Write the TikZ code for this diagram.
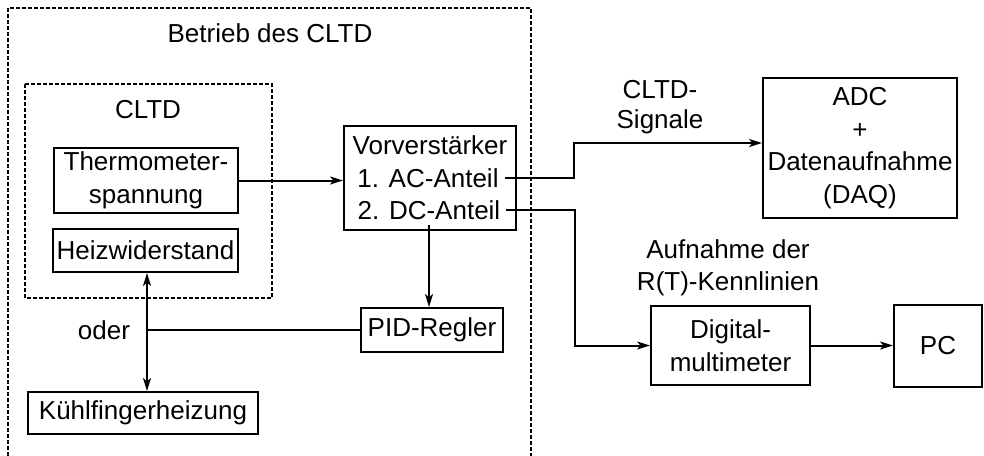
\documentclass[tikz,border=0pt]{standalone}
\usepackage{fontspec}
\setmainfont{Liberation Sans}
\usetikzlibrary{arrows.meta,calc}
\begin{document}
\begin{tikzpicture}[x=1pt,y=-1pt,
  font=\fontsize{26}{32.5}\selectfont,
  line width=2pt,
  blk/.style={draw, line width=2pt, inner sep=0pt, align=center},
  txt/.style={inner sep=0pt, align=center},
  arr/.style={line width=2pt, -{Stealth[length=13pt,width=8pt,inset=3.5pt]}},
  dualarr/.style={line width=2pt, {Stealth[length=13pt,width=8pt,inset=3.5pt]}-{Stealth[length=13pt,width=8pt,inset=3.5pt]}},
  frame/.style={line width=1.5pt, dash pattern=on 4pt off 2pt}
]
\useasboundingbox (0,0) rectangle (984,455);
% frames
\draw[frame] (8,462) -- (8,8) -- (531,8) -- (531,462);
\draw[frame] (25,84) rectangle (272,298);
\node[txt] (betrieb) at (270,33) {Betrieb des CLTD};
\node[txt] (cltd) at (148,110) {CLTD};
% blocks
\node[blk, minimum width=184pt, minimum height=65pt] (therm) at (146,180.5) {Thermometer-\\spannung};
\node[blk, minimum width=185pt, minimum height=43pt] (heiz) at (145.5,250.5) {Heizwiderstand};
\node[blk, minimum width=230pt, minimum height=42pt] (kuehl) at (143,413) {Kühlfingerheizung};
\node[blk, minimum width=172pt, minimum height=104pt] (vor) at (430,178) {};
\node[txt] (vt) at (430,145) {Vorverstärker};
\node[txt, inner xsep=5pt] (ac) at (428,178) {1. AC-Anteil};
\node[txt, inner xsep=5pt, inner ysep=4pt] (dc) at (429,210) {2. DC-Anteil};
\node[blk, minimum width=142pt, minimum height=44pt] (pid) at (432,330) {PID-Regler};
\node[blk, minimum width=194pt, minimum height=140pt] (adc) at (860,148) {ADC\\+\\Datenaufnahme\\(DAQ)};
\node[blk, minimum width=159pt, minimum height=79pt] (dmm) at (730.5,345.5) {Digital-\\multimeter};
\node[blk, minimum width=88pt, minimum height=82pt] (pc) at (938,346) {PC};
% labels
\node[txt, font=\fontsize{26}{30}\selectfont] (sig) at (660,107) {CLTD-\\Signale};
\node[txt] (rt) at (728,268) {Aufnahme der\\R(T)-Kennlinien};
\coordinate (j) at (147,330);
\node[txt, anchor=east] (oder) at (131,330) {oder};
% connectors
\draw[arr] (therm.east) -- (therm.east -| vor.west);
\draw[arr] (ac.east) -- ++(69,0) |- ([yshift=5pt]adc.west);
\draw[arr] (dc.east) -- ++(69,0) |- (dmm.west);
\draw[arr] (dmm.east) -- (dmm.east -| pc.west);
\draw[arr] (dc.south) -- (dc.south |- pid.north);
\draw[dualarr] (heiz.south -| j) -- (kuehl.north -| j);
\draw[line width=2pt] (pid.west) -- (j);
\end{tikzpicture}
\end{document}
